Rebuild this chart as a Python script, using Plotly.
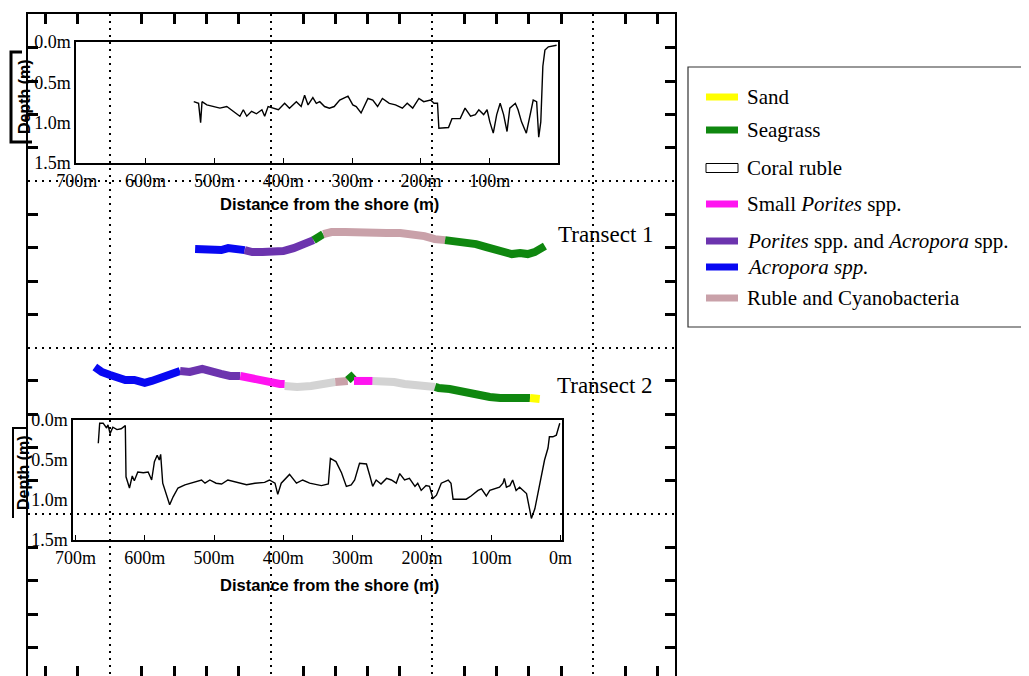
import plotly.graph_objects as go

# the page body adds an 8px offset; the figure is sized so that it ends at the window edge
SCREEN_W, SCREEN_H = 1029, 676
OFF = 8
W, H = SCREEN_W - OFF, SCREEN_H - OFF

# ---------------- depth profiles (distance from shore in m, depth in m) ----------------
T1_DIST = [530, 523, 520, 518, 511, 501, 492, 482, 472, 463, 458, 453, 446, 439, 431, 427, 422,
           415, 407, 398, 391, 381, 374, 369, 364, 357, 352, 347, 340, 333, 326, 318, 306, 299,
           294, 287, 277, 270, 263, 256, 246, 237, 227, 220, 212, 203, 196, 186, 181, 176, 174,
           160, 155, 143, 136, 128, 121, 116, 109, 104, 100, 95, 90, 85, 80, 75, 71, 63, 59, 54,
           47, 37, 32, 29, 26, 23, 20, 15, 8, 3]
T1_DEPTH = [0.74, 0.76, 1.00, 0.74, 0.78, 0.80, 0.82, 0.80, 0.86, 0.92, 0.84, 0.92, 0.86, 0.89,
            0.84, 0.92, 0.80, 0.82, 0.84, 0.76, 0.82, 0.74, 0.80, 0.66, 0.78, 0.69, 0.76, 0.74,
            0.80, 0.82, 0.80, 0.72, 0.67, 0.78, 0.80, 0.88, 0.70, 0.72, 0.80, 0.70, 0.76, 0.78,
            0.82, 0.76, 0.82, 0.70, 0.74, 0.72, 0.76, 0.76, 1.07, 1.06, 0.95, 0.95, 0.82, 0.92,
            0.90, 0.84, 0.90, 0.84, 0.99, 1.13, 0.90, 0.76, 0.90, 1.11, 0.82, 0.76, 0.84, 0.99,
            1.13, 0.72, 0.74, 1.18, 0.99, 0.30, 0.10, 0.06, 0.05, 0.04]

T2_DIST = [667, 665, 660, 655, 653, 650, 646, 640, 634, 628, 627, 622, 618, 615, 610, 602, 595,
           590, 586, 582, 579, 577, 574, 569, 564, 559, 552, 542, 533, 518, 513, 506, 497, 489,
           480, 470, 461, 453, 441, 427, 420, 412, 408, 403, 391, 381, 372, 362, 345, 335, 332,
           324, 316, 309, 302, 297, 290, 280, 275, 271, 266, 259, 251, 244, 237, 232, 225, 218,
           210, 206, 201, 194, 189, 184, 179, 172, 162, 158, 155, 148, 136, 129, 119, 114, 107,
           102, 95, 88, 83, 81, 78, 73, 69, 64, 59, 54, 49, 44, 42, 37, 32, 28, 23, 18, 16, 11,
           6, 1]
T2_DEPTH = [0.29, 0.04, 0.04, 0.10, 0.06, 0.17, 0.09, 0.12, 0.11, 0.07, 0.71, 0.85, 0.70, 0.76,
            0.65, 0.66, 0.65, 0.75, 0.52, 0.44, 0.50, 0.43, 0.79, 0.92, 1.06, 0.96, 0.85, 0.81,
            0.79, 0.75, 0.79, 0.75, 0.79, 0.80, 0.75, 0.77, 0.79, 0.81, 0.79, 0.78, 0.75, 0.79,
            0.93, 0.79, 0.68, 0.79, 0.75, 0.79, 0.82, 0.80, 0.48, 0.52, 0.66, 0.83, 0.81, 0.75,
            0.54, 0.55, 0.70, 0.83, 0.75, 0.80, 0.73, 0.75, 0.79, 0.67, 0.75, 0.73, 0.83, 0.79,
            0.88, 0.82, 0.83, 0.98, 0.94, 0.79, 0.75, 0.79, 0.99, 0.99, 0.99, 0.95, 0.88, 0.86,
            0.95, 0.88, 0.86, 0.84, 0.79, 0.73, 0.84, 0.82, 0.75, 0.88, 0.84, 0.88, 0.92, 1.14,
            1.23, 1.11, 0.90, 0.75, 0.50, 0.35, 0.21, 0.21, 0.19, 0.04]

DIST_TICKS = [700, 600, 500, 400, 300, 200, 100, 0]
DEPTH_TICKS = [0.0, 0.5, 1.0, 1.5]

# ---------------- habitat along transects (distance in m, map northing in grid units) ----------------
CATEGORIES = ["Sand", "Seagrass", "Coral ruble", "Small <i>Porites</i> spp.",
              "<i>Porites</i> spp. and <i>Acropora</i> spp.", "<i>Acropora spp.</i>",
              "Ruble and Cyanobacteria"]

T1_ACRO_D = [528, 520, 510, 500, 490, 480, 470, 460, 456]
T1_ACRO_Y = [6.04, 6.04, 6.10, 6.10, 6.07, 6.01, 6.01, 6.04, 6.07]
T1_PORACRO_D = [456, 445, 430, 415, 400, 385, 372, 362, 356]
T1_PORACRO_Y = [6.07, 6.13, 6.13, 6.13, 6.10, 6.01, 5.92, 5.83, 5.77]
T1_SEA1_D = [356, 350, 342]
T1_SEA1_Y = [5.77, 5.68, 5.59]
T1_RUBCYA_D = [342, 330, 310, 290, 270, 250, 230, 210, 195, 180, 165]
T1_RUBCYA_Y = [5.59, 5.53, 5.53, 5.56, 5.53, 5.56, 5.56, 5.59, 5.65, 5.74, 5.77]
T1_SEA2_D = [165, 150, 135, 120, 105, 92, 80, 68, 56, 45, 35, 26, 20]
T1_SEA2_Y = [5.77, 5.80, 5.83, 5.89, 5.98, 6.07, 6.16, 6.19, 6.16, 6.19, 6.13, 6.04, 5.95]

T2_ACRO_D = [672, 662, 650, 640, 628, 615, 600, 590, 578, 565, 557, 549]
T2_ACRO_Y = [9.58, 9.73, 9.82, 9.88, 9.97, 9.97, 10.06, 10.00, 9.91, 9.82, 9.73, 9.70]
T2_PORACRO_D = [549, 535, 517, 505, 490, 477, 462]
T2_PORACRO_Y = [9.70, 9.73, 9.64, 9.73, 9.79, 9.85, 9.85]
T2_SMALL1_D = [462, 450, 434, 420, 405, 398]
T2_SMALL1_Y = [9.85, 9.91, 10.00, 10.06, 10.09, 10.09]
T2_RUBLE1_D = [398, 380, 360, 340, 325]
T2_RUBLE1_Y = [10.15, 10.18, 10.15, 10.09, 10.03]
T2_RUBCYA_D = [325, 315, 307]
T2_RUBCYA_Y = [10.03, 10.00, 10.00]
T2_SEA1_D = [307, 302, 298]
T2_SEA1_Y = [9.97, 9.88, 9.97]
T2_SMALL2_D = [298, 285, 271]
T2_SMALL2_Y = [10.00, 10.00, 10.00]
T2_RUBLE2_D = [271, 255, 240, 225, 210, 195, 181]
T2_RUBLE2_Y = [10.00, 10.00, 10.03, 10.09, 10.12, 10.15, 10.18]
T2_SEA2_D = [181, 176, 160, 145, 134, 120, 102, 87, 70, 55, 44]
T2_SEA2_Y = [10.18, 10.21, 10.24, 10.30, 10.39, 10.45, 10.48, 10.51, 10.51, 10.51, 10.51]
T2_SAND_D = [44, 30]
T2_SAND_Y = [10.51, 10.54]

# ---------------- styles ----------------
COLORS = {
    "Sand": "#ffff00",
    "Seagrass": "#0f870f",
    "Coral ruble": "#d3d3d3",
    "Small <i>Porites</i> spp.": "#ff14f0",
    "<i>Porites</i> spp. and <i>Acropora</i> spp.": "#6c34ae",
    "<i>Acropora spp.</i>": "#0808f2",
    "Ruble and Cyanobacteria": "#c9a1a9",
}

T1_SEGMENTS = [
    ("<i>Acropora spp.</i>", T1_ACRO_D, T1_ACRO_Y),
    ("<i>Porites</i> spp. and <i>Acropora</i> spp.", T1_PORACRO_D, T1_PORACRO_Y),
    ("Seagrass", T1_SEA1_D, T1_SEA1_Y),
    ("Ruble and Cyanobacteria", T1_RUBCYA_D, T1_RUBCYA_Y),
    ("Seagrass", T1_SEA2_D, T1_SEA2_Y),
]
T2_SEGMENTS = [
    ("<i>Acropora spp.</i>", T2_ACRO_D, T2_ACRO_Y),
    ("<i>Porites</i> spp. and <i>Acropora</i> spp.", T2_PORACRO_D, T2_PORACRO_Y),
    ("Small <i>Porites</i> spp.", T2_SMALL1_D, T2_SMALL1_Y),
    ("Coral ruble", T2_RUBLE1_D, T2_RUBLE1_Y),
    ("Ruble and Cyanobacteria", T2_RUBCYA_D, T2_RUBCYA_Y),
    ("Seagrass", T2_SEA1_D, T2_SEA1_Y),
    ("Small <i>Porites</i> spp.", T2_SMALL2_D, T2_SMALL2_Y),
    ("Coral ruble", T2_RUBLE2_D, T2_RUBLE2_Y),
    ("Seagrass", T2_SEA2_D, T2_SEA2_Y),
    ("Sand", T2_SAND_D, T2_SAND_Y),
]

SERIF = "Liberation Serif, Times New Roman, serif"
SANS = "Liberation Sans, Arial, sans-serif"


def px_x(p):
    """screen pixel column -> paper fraction"""
    return (p - OFF) / W


def px_y(p):
    """screen pixel row -> paper fraction"""
    return 1 - (p - OFF) / H


fig = go.Figure()

# dummy trace to instantiate the outer map frame
fig.add_trace(go.Scatter(x=[None], y=[None], xaxis="x", yaxis="y", showlegend=False,
                         hoverinfo="skip"))

# depth profiles
fig.add_trace(go.Scatter(x=T1_DIST, y=T1_DEPTH, xaxis="x2", yaxis="y2", mode="lines",
                         line=dict(color="black", width=1.4), showlegend=False))
fig.add_trace(go.Scatter(x=T2_DIST, y=T2_DEPTH, xaxis="x3", yaxis="y3", mode="lines",
                         line=dict(color="black", width=1.4), showlegend=False))

# habitat segments
for cat, d, y in T1_SEGMENTS:
    fig.add_trace(go.Scatter(x=d, y=y, xaxis="x2", yaxis="y4", mode="lines",
                             line=dict(color=COLORS[cat], width=8), name=cat,
                             showlegend=False))
for cat, d, y in T2_SEGMENTS:
    fig.add_trace(go.Scatter(x=d, y=y, xaxis="x3", yaxis="y4", mode="lines",
                             line=dict(color=COLORS[cat], width=8), name=cat,
                             showlegend=False))

OUTER_X_RANGE = [-0.527, 19.53]
OUTER_Y_RANGE = [18.86, -1.02]
frame_common = dict(showgrid=True, gridcolor="black", gridwidth=1.6, griddash="2px,5px",
                    ticks="", showticklabels=False, showline=True, linecolor="black",
                    linewidth=2, mirror="ticks", zeroline=False, dtick=5, automargin=False,
                    minor=dict(dtick=1, tick0=0, ticks="inside", ticklen=10, tickwidth=2.5,
                               tickcolor="black", showgrid=False))

inset_x = dict(tickmode="array", tickvals=DIST_TICKS, ticktext=[f"{v}m" for v in DIST_TICKS],
               ticks="inside", ticklen=5, tickwidth=1.2, automargin=False,
               tickcolor="black", showline=True, linecolor="black", linewidth=1.5,
               mirror=True, showgrid=False, zeroline=False, ticklabelstandoff=1,
               tickfont=dict(family=SERIF, size=18, color="black"))
inset_y = dict(tickmode="array", tickvals=DEPTH_TICKS,
               ticktext=[f"{v:.1f}m" for v in DEPTH_TICKS], ticks="", automargin=False,
               showline=True, linecolor="black", linewidth=1.5, mirror=True,
               showgrid=False, zeroline=False, ticklabelstandoff=0,
               tickfont=dict(family=SERIF, size=18, color="black"))

fig.update_layout(
    width=W, height=H, margin=dict(l=0, r=0, t=0, b=0, pad=0, autoexpand=False),
    paper_bgcolor="white", plot_bgcolor="rgba(0,0,0,0)", showlegend=False,
    xaxis=dict(domain=[px_x(28), px_x(675)], range=OUTER_X_RANGE, tick0=2, anchor="y",
               **frame_common),
    yaxis=dict(domain=[0, px_y(14)], range=OUTER_Y_RANGE, tick0=4, anchor="x",
               **frame_common),
    xaxis2=dict(domain=[px_x(76), px_x(558)], range=[701, 1], anchor="y2", **inset_x),
    yaxis2=dict(domain=[px_y(163), px_y(42)], range=[1.5, 0], anchor="x2", **inset_y),
    xaxis3=dict(domain=[px_x(73), px_x(562)], range=[703.5, -2.2], anchor="y3", **inset_x),
    yaxis3=dict(domain=[px_y(540), px_y(420)], range=[1.5, 0], anchor="x3", **inset_y),
    yaxis4=dict(domain=[0, px_y(14)], range=OUTER_Y_RANGE, visible=False, anchor="x2",
                showgrid=False, zeroline=False, automargin=False),
)

annotations = []
shapes = []


def label(text, x, y, size, family, angle=0, xanchor="center"):
    annotations.append(dict(text=text, x=px_x(x), y=px_y(y), xref="paper", yref="paper",
                            xanchor=xanchor, yanchor="middle", showarrow=False,
                            textangle=angle, font=dict(family=family, size=size,
                                                        color="black")))


# axis titles of insets
for cy in (204, 585):
    label("<b>Distance from the shore (m)</b>", 329, cy, 16.5, SANS)
for cx, cy in ((24, 97), (23, 473)):
    label("<b>Depth (m)</b>", cx, cy, 16, SANS, angle=-90)

# bracket marks beside the depth titles
shapes.append(dict(type="path", xref="paper", yref="paper",
                   path=f"M {px_x(22)},{px_y(52)} L {px_x(11)},{px_y(52)} L {px_x(11)},{px_y(142)} L {px_x(32)},{px_y(142)}",
                   line=dict(color="black", width=3)))
shapes.append(dict(type="path", xref="paper", yref="paper",
                   path=f"M {px_x(28)},{px_y(428)} L {px_x(13)},{px_y(428)} L {px_x(13)},{px_y(518)}",
                   line=dict(color="black", width=2)))

# transect labels
label("Transect 1", 606, 235, 23, SERIF)
label("Transect 2", 605, 385, 23, SERIF)

# legend box
shapes.append(dict(type="rect", xref="paper", yref="paper", x0=px_x(688), x1=px_x(1027),
                   y0=px_y(327), y1=px_y(67), line=dict(color="#333333", width=1.2),
                   fillcolor="white"))
LEGEND_ROWS = [97, 130, 168, 204, 241, 267, 298]
for cat, ry in zip(CATEGORIES, LEGEND_ROWS):
    if cat == "Coral ruble":
        shapes.append(dict(type="rect", xref="paper", yref="paper", x0=px_x(706), x1=px_x(738),
                           y0=px_y(ry + 4.5), y1=px_y(ry - 4.5), fillcolor="white",
                           line=dict(color="black", width=1)))
    else:
        shapes.append(dict(type="rect", xref="paper", yref="paper", x0=px_x(706), x1=px_x(738),
                           y0=px_y(ry + 3.5), y1=px_y(ry - 3.5), fillcolor=COLORS[cat],
                           line=dict(width=0)))
    label(cat, 745, ry, 21, SERIF, xanchor="left")

fig.update_layout(annotations=annotations, shapes=shapes)
fig.write_html("out.html")
